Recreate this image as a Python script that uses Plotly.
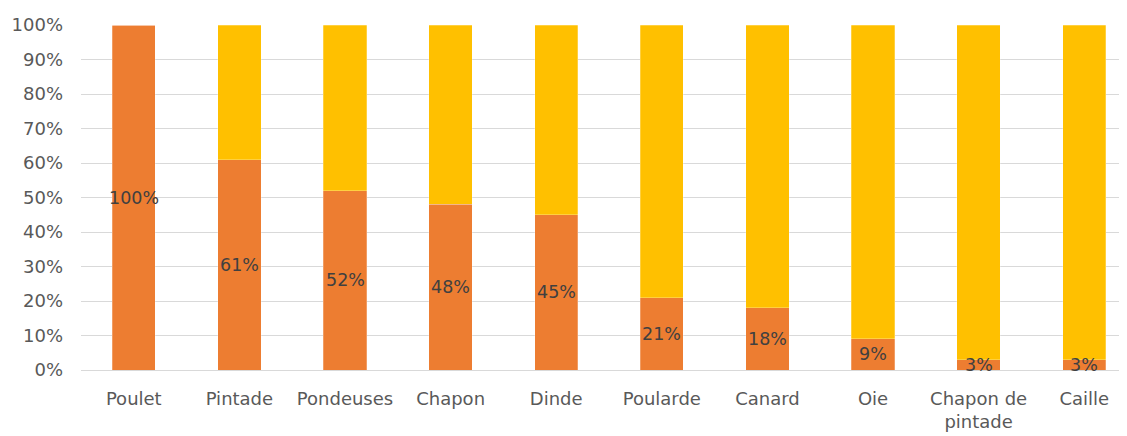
import plotly.graph_objects as go

categories = ["Poulet", "Pintade", "Pondeuses", "Chapon", "Dinde", "Poularde",
              "Canard", "Oie", "Chapon de<br>pintade", "Caille"]
share_pct = [100, 61, 52, 48, 45, 21, 18, 9, 3, 3]
rest_pct = [100 - v for v in share_pct]
labels = [f"{v}%" for v in share_pct]

x = list(range(len(categories)))
FONT = "DejaVu Sans, sans-serif"

fig = go.Figure()
fig.add_trace(go.Bar(x=x, y=[v / 100 for v in share_pct], marker_color="#ED7D31",
                     marker_line=dict(color="rgba(255,255,255,0.5)", width=0.5),
                     width=0.41, hoverinfo="skip"))
fig.add_trace(go.Bar(x=x, y=[v / 100 for v in rest_pct], marker_color="#FFC000",
                     marker_line=dict(color="rgba(255,255,255,0.5)", width=0.5),
                     width=0.41, hoverinfo="skip"))

for xi, v, t in zip(x, share_pct, labels):
    fig.add_annotation(x=xi, y=v / 200, text=t, showarrow=False,
                       font=dict(family=FONT, size=17.5, color="#404040"),
                       xanchor="center", yanchor="middle")

# page body has an 8px margin, so the figure is offset by 8px
fig.update_layout(
    barmode="stack",
    width=1119, height=428,
    margin=dict(l=73, r=0, t=17, b=66),
    paper_bgcolor="white", plot_bgcolor="white",
    showlegend=False,
    font=dict(family=FONT, size=18, color="#595959"),
)
fig.update_xaxes(tickmode="array", tickvals=x, ticktext=categories,
                 range=[-0.5, 9.405], showgrid=False, zeroline=False,
                 showline=False, ticks="", ticklabelstandoff=16,
                 tickfont=dict(family=FONT, size=18, color="#595959"))
fig.update_yaxes(range=[0, 1], tickformat=".0%", dtick=0.1,
                 showgrid=True, gridcolor="#D9D9D9", gridwidth=1,
                 zeroline=True, zerolinecolor="#D9D9D9", zerolinewidth=1,
                 ticks="", ticklabelstandoff=17,
                 tickfont=dict(family=FONT, size=18, color="#595959"))

fig.write_html("out.html")
